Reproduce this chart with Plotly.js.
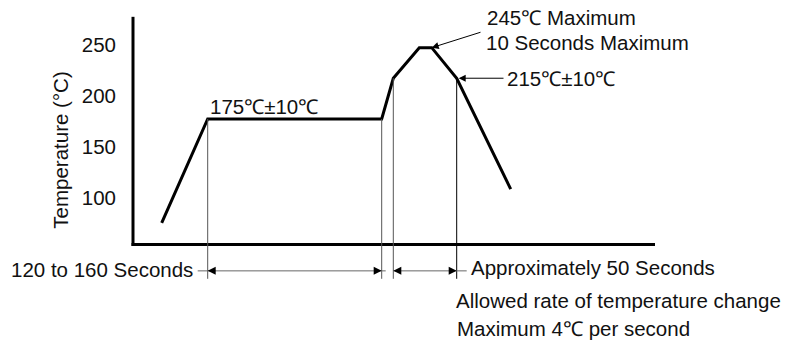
<!DOCTYPE html>
<html>
<head>
<meta charset="utf-8">
<script src="https://cdn.plot.ly/plotly-3.0.1.min.js"></script>
<style>html,body{margin:0;padding:0;background:#fff;}#chart{width:795px;height:345px;}</style>
</head>
<body>
<div id="chart"></div>
<script>
// Schematic reflow profile (time axis has no scale; units are arbitrary seconds)
const timeS = [28.7, 74.7, 248.7, 260.3, 286.3, 298.7, 323.7, 377.7];
const tempC = [75, 177, 177, 217, 247, 247, 217, 108];
const yTicks = [100, 150, 200, 250];
const yTickText = ['100', '150', '200', '250'];
const labelSoak = '175℃±10℃';
const labelPeak1 = '245℃ Maximum';
const labelPeak2 = '10 Seconds Maximum';
const labelReflow = '215℃±10℃';
const labelSoakTime = '120 to 160 Seconds';
const labelReflowTime = 'Approximately 50 Seconds';
const labelRate1 = 'Allowed rate of temperature change';
const labelRate2 = 'Maximum 4℃ per second';
const yTitle = 'Temperature (°C)';

const FONT = 'Liberation Sans, Arial, Helvetica, sans-serif';
const TXT = '#111';
const fs = 20.5;

// axis frame (drawn as shapes)
const xAxisT = 53.8, yTopT = 277.3, xEnd = 522;
const dimT = 27.8;      // dimension line level
const extBottomT = 20;  // bottom of extension lines

const shapes = [];
shapes.push({type:'line', xref:'x', yref:'y', x0:0, x1:0, y0:xAxisT-1.5, y1:yTopT, line:{color:'#000', width:3}});
shapes.push({type:'line', xref:'x', yref:'y', x0:-1.5, x1:xEnd, y0:xAxisT, y1:xAxisT, line:{color:'#000', width:3}});
[[1,'#555'],[2,'#555'],[3,'#555'],[6,'#000']].forEach(([i,c]) => {
  shapes.push({type:'line', xref:'x', yref:'y', x0:timeS[i], x1:timeS[i], y0:tempC[i], y1:extBottomT, line:{color:c, width:1}});
});
shapes.push({type:'line', xref:'x', yref:'y', x0:timeS[1]-10, x1:timeS[2]+4, y0:dimT, y1:dimT, line:{color:'#666', width:1}});
shapes.push({type:'line', xref:'x', yref:'y', x0:timeS[3], x1:timeS[6]+10, y0:dimT, y1:dimT, line:{color:'#666', width:1}});

const annotations = [];
function head(x, y, ax) {
  annotations.push({x:x, y:y, ax:ax, ay:y, xref:'x', yref:'y', axref:'x', ayref:'y', text:'',
    showarrow:true, arrowhead:2, arrowsize:1.6, arrowwidth:1, arrowcolor:'#000', standoff:0});
}
head(timeS[1], dimT, timeS[1]+9);
head(timeS[2], dimT, timeS[2]-9);
head(timeS[3], dimT, timeS[3]+9);
head(timeS[6], dimT, timeS[6]-9);

annotations.push({x:timeS[5], y:tempC[5], ax:349, ay:262.6, xref:'x', yref:'y', axref:'x', ayref:'y', text:'',
  showarrow:true, arrowhead:2, arrowsize:1.4, arrowwidth:1, arrowcolor:'#000', standoff:0});
annotations.push({x:timeS[6]+2, y:tempC[6], ax:372, ay:tempC[6], xref:'x', yref:'y', axref:'x', ayref:'y', text:'',
  showarrow:true, arrowhead:2, arrowsize:1.4, arrowwidth:1, arrowcolor:'#000', standoff:0});

function txt(text, x, y, xanchor, yref) {
  annotations.push({text:text, x:x, y:y, xref:'x', yref:yref||'y', xanchor:xanchor||'left', yanchor:'middle',
    showarrow:false, font:{family:FONT, size:fs, color:TXT}, borderpad:0});
}
txt(labelSoak, 76, 189);
txt(labelPeak1, 353, 277);
txt(labelPeak2, 352, 252.3);
txt(labelReflow, 373, 216.5);
txt(labelSoakTime, 61, 29.5, 'right');
txt(labelReflowTime, 337, 30.8);
txt(labelRate1, 322, -0.036, 'left', 'paper');
txt(labelRate2, 323, -0.137, 'left', 'paper');

const data = [{
  x: timeS, y: tempC, type:'scatter', mode:'lines',
  line:{color:'#000', width:3}, hoverinfo:'skip', showlegend:false
}];

const layout = {
  width:795, height:345, autosize:false,
  margin:{l:123, r:125, t:10, b:55, pad:0},
  paper_bgcolor:'#fff', plot_bgcolor:'#fff',
  showlegend:false,
  font:{family:FONT, size:fs, color:TXT},
  xaxis:{range:[-10, 537], visible:false, fixedrange:true},
  yaxis:{range:[9, 284], tickvals:yTicks, ticktext:yTickText, ticks:'', showgrid:false, zeroline:false,
    showline:false, ticklabelstandoff:6, tickfont:{family:FONT, size:fs, color:TXT},
    title:{text:yTitle, font:{family:FONT, size:fs, color:TXT}, standoff:7}, fixedrange:true},
  shapes: shapes,
  annotations: annotations
};

Plotly.newPlot('chart', data, layout, {staticPlot:true, displayModeBar:false});
</script>
</body>
</html>
